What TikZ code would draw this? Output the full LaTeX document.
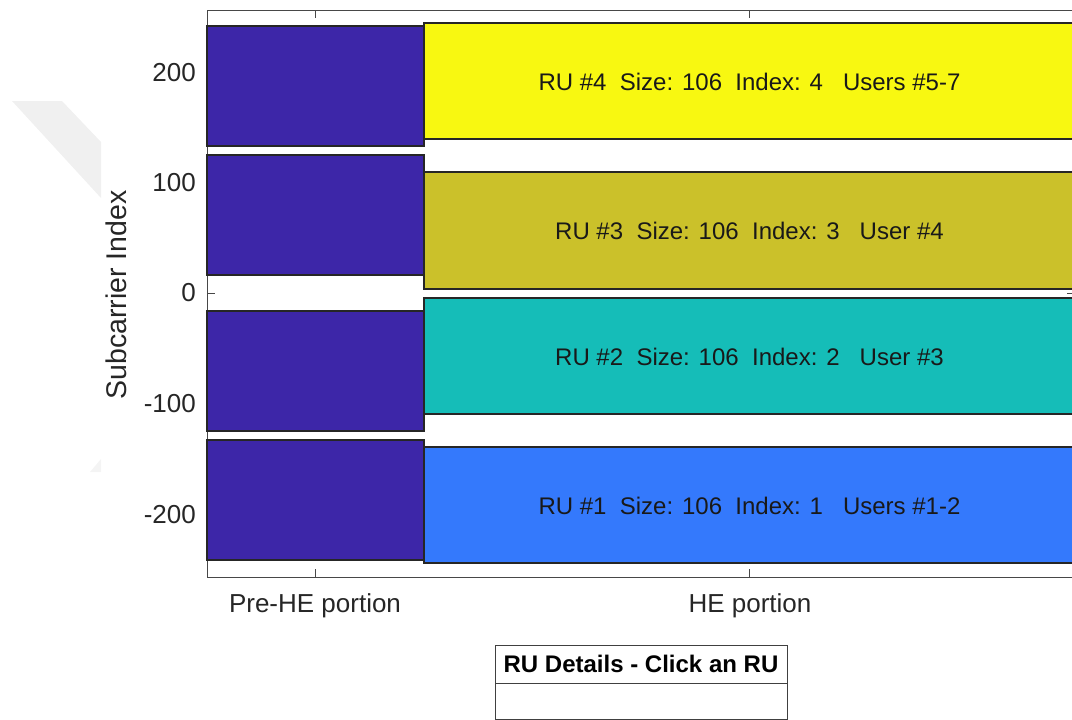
\documentclass[tikz,border=0pt]{standalone}
\usepackage{fontspec}
\setmainfont{Liberation Sans}
\definecolor{preHE}{HTML}{3D26A8}
\definecolor{ruyellow}{HTML}{F8F811}
\definecolor{ruolive}{HTML}{CBC12A}
\definecolor{ruteal}{HTML}{15BDB8}
\definecolor{rublue}{HTML}{3479FC}
\definecolor{axgray}{HTML}{262626}
\definecolor{wmgray}{HTML}{F0F0F0}
\definecolor{wmgray2}{HTML}{F4F4F4}
\begin{document}
\begin{tikzpicture}[x=1pt,y=-1pt,
  ax/.style={draw=axgray!85, line width=0.9pt},
  blk/.style={draw=black!85, line width=1.1pt},
  rutext/.style={font=\fontsize{24}{28}\selectfont, text=black!90, inner sep=0pt},
  ticklab/.style={font=\fontsize{26}{30}\selectfont, text=axgray, inner sep=0pt},
  axlab/.style={font=\fontsize{28.5}{32}\selectfont, text=axgray, inner sep=0pt},
  tbl/.style={draw=black!75, line width=0.9pt},
  tblhead/.style={font=\bfseries\fontsize{24}{28}\selectfont, text=black, inner sep=0pt},
]
\useasboundingbox (0,0) rectangle (1072,720);
\clip (0,0) rectangle (1072,720);
% faint watermark
\fill[wmgray] (12,101) -- (62,101) -- (101,142) -- (101,198) -- cycle;
\fill[wmgray2] (90,472) -- (101,459) -- (101,472) -- cycle;
% axes box
\draw[ax] (1090,10) -- (207,10) -- (207,577) -- (1090,577);
\draw[ax] (315,577) -- (315,569) (749,577) -- (749,569)
          (315,10) -- (315,18) (749,10) -- (749,18)
          (207,293) -- (215,293) (1075,293) -- (1067,293);
% pre-HE blocks
\filldraw[blk, fill=preHE] (207,26) rectangle (424,146);
\filldraw[blk, fill=preHE] (207,155) rectangle (424,275);
\filldraw[blk, fill=preHE] (207,311) rectangle (424,431);
\filldraw[blk, fill=preHE] (207,440) rectangle (424,560);
% HE blocks
\filldraw[blk, fill=ruyellow] (424,23) rectangle (1095,139);
\filldraw[blk, fill=ruolive] (424,172) rectangle (1095,289);
\filldraw[blk, fill=ruteal] (424,298) rectangle (1095,414);
\filldraw[blk, fill=rublue] (424,447) rectangle (1095,563);
\node[rutext] (ru4) at (749.5,82) {RU~\#4~~Size: 106~~Index: 4~~~Users~\#5-7};
\node[rutext] (ru3) at (749.5,231) {RU~\#3~~Size: 106~~Index: 3~~~User~\#4};
\node[rutext] (ru2) at (749.5,357) {RU~\#2~~Size: 106~~Index: 2~~~User~\#3};
\node[rutext] (ru1) at (749.5,506) {RU~\#1~~Size: 106~~Index: 1~~~Users~\#1-2};
% tick labels
\node[ticklab, anchor=east] (t200) at (196,73) {200};
\node[ticklab, anchor=east] (t100) at (196,183) {100};
\node[ticklab, anchor=east] (t0) at (196,293) {0};
\node[ticklab, anchor=east] (tm100) at (196,404) {-100};
\node[ticklab, anchor=east] (tm200) at (196,515) {-200};
\node[ticklab] (xpre) at (315,606) {Pre-HE portion};
\node[ticklab] (xhe) at (750,606) {HE portion};
\node[axlab, rotate=90] (ylab) at (116,295) {Subcarrier Index};
% table
\draw[tbl] (495,645) rectangle (787,719);
\draw[tbl] (495,683) -- (787,683);
\node[tblhead] (thead) at (641,664) {RU Details - Click an RU};
\end{tikzpicture}
\end{document}
